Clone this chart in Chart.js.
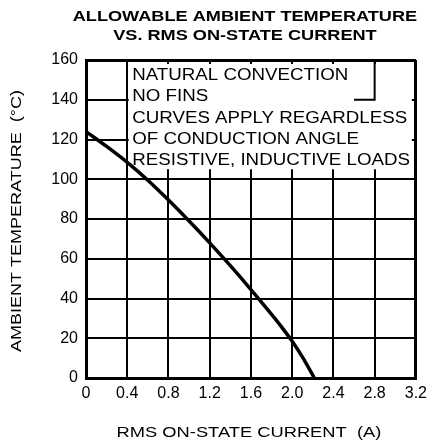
<!DOCTYPE html>
<html>
<head>
<meta charset="utf-8">
<script src="https://cdn.jsdelivr.net/npm/chart.js@4"></script>
<style>
  html, body { margin: 0; padding: 0; background: #fff; }
  canvas { display: block; }
</style>
</head>
<body>
<canvas id="chart" width="433" height="447"></canvas>
<script>
// Data
const currentA = [0, 0.2, 0.4, 0.6, 0.8, 1.0, 1.2, 1.4, 1.6, 1.8, 1.9, 2.0, 2.1, 2.215];
const ambientC = [124, 116.5, 108.5, 99.5, 89.5, 79, 68, 56.5, 44.5, 32, 25.5, 18.5, 10.5, 0];

const xTickLabels = ['0', '0.4', '0.8', '1.2', '1.6', '2.0', '2.4', '2.8', '3.2'];
const yTickLabels = ['0', '20', '40', '60', '80', '100', '120', '140', '160'];

const titleLines = ['ALLOWABLE AMBIENT TEMPERATURE', 'VS. RMS ON-STATE CURRENT'];
const xTitle = 'RMS ON-STATE CURRENT  (A)';
const yTitle = 'AMBIENT TEMPERATURE  (\u00B0C)';
const noteLines = [
    'NATURAL CONVECTION',
    'NO FINS',
    'CURVES APPLY REGARDLESS',
    'OF CONDUCTION ANGLE',
    'RESISTIVE, INDUCTIVE LOADS'
];

const FONT = '"Liberation Sans", Arial, Helvetica, sans-serif';

// text in the reference is a wide Helvetica, so stretch it a bit
function stretchedText(ctx, text, x, y, sx, font, align) {
    ctx.save();
    ctx.font = font;
    ctx.fillStyle = '#000';
    ctx.textAlign = align || 'left';
    ctx.textBaseline = 'alphabetic';
    ctx.translate(x, y);
    ctx.scale(sx, 1);
    ctx.fillText(text, 0, 0);
    ctx.restore();
}

// white note box over the grid, with the few grid pieces that show through
const noteBox = {
    id: 'noteBox',
    beforeDatasetsDraw(chart) {
        const ctx = chart.ctx;
        const xs = chart.scales.x, ys = chart.scales.y;
        const left = xs.getPixelForValue(0.4) + 1.5;
        const right = xs.getPixelForValue(3.2) - 4;
        const top = ys.getPixelForValue(160) + 4;
        const bottom = ys.getPixelForValue(100) - 10;
        ctx.save();
        ctx.fillStyle = '#fff';
        ctx.fillRect(left, top, right - left, bottom - top);

        ctx.strokeStyle = '#000';
        ctx.lineWidth = 2;
        ctx.beginPath();
        ctx.moveTo(xs.getPixelForValue(2.8), ys.getPixelForValue(160));
        ctx.lineTo(xs.getPixelForValue(2.8), ys.getPixelForValue(140));
        ctx.moveTo(xs.getPixelForValue(2.6), ys.getPixelForValue(140));
        ctx.lineTo(xs.getPixelForValue(2.8) + 1, ys.getPixelForValue(140));
        ctx.stroke();
        ctx.restore();

        const tx = xs.getPixelForValue(0.4) + 5;
        let ty = top + 16;
        noteLines.forEach(line => {
            stretchedText(ctx, line, tx, ty, 1.17, '16px ' + FONT);
            ty += 21.25;
        });
    }
};

const outerText = {
    id: 'outerText',
    afterDraw(chart) {
        const ctx = chart.ctx;
        const area = chart.chartArea;
        const midX = (area.left + area.right) / 2;
        stretchedText(ctx, titleLines[0], midX - 6, 21, 1.21, 'bold 15px ' + FONT, 'center');
        stretchedText(ctx, titleLines[1], midX - 6, 40, 1.21, 'bold 15px ' + FONT, 'center');

        stretchedText(ctx, xTitle, midX - 2, 437, 1.22, '15px ' + FONT, 'center');

        ctx.save();
        ctx.translate(21, (area.top + area.bottom) / 2 + 2);
        ctx.rotate(-Math.PI / 2);
        stretchedText(ctx, yTitle, 0, 0, 1.2, '15px ' + FONT, 'center');
        ctx.restore();
    }
};

const ctx = document.getElementById('chart').getContext('2d');
new Chart(ctx, {
    type: 'line',
    data: {
        datasets: [{
            data: currentA.map((a, i) => ({ x: a, y: ambientC[i] })),
            borderColor: '#000',
            borderWidth: 3.5,
            pointRadius: 0,
            fill: false,
            cubicInterpolationMode: 'monotone'
        }]
    },
    options: {
        responsive: false,
        animation: false,
        devicePixelRatio: 1,
        layout: {
            padding: { top: 60, right: 13, bottom: 0, left: 0 }
        },
        plugins: {
            legend: { display: false },
            tooltip: { enabled: false },
            title: { display: false }
        },
        scales: {
            x: {
                type: 'linear',
                min: 0,
                max: 3.2,
                afterFit: s => { s.height = 69; },
                ticks: {
                    stepSize: 0.4,
                    autoSkip: false,
                    maxRotation: 0,
                    padding: 6,
                    color: '#000',
                    font: { family: FONT, size: 16 },
                    callback: (v, i) => xTickLabels[i]
                },
                grid: {
                    color: '#000',
                    drawTicks: false,
                    lineWidth: c => (c.index === xTickLabels.length - 1 ? 3 : 2)
                },
                border: { display: true, color: '#000', width: 3 }
            },
            y: {
                min: 0,
                max: 160,
                afterFit: s => { s.width = 86; },
                ticks: {
                    stepSize: 20,
                    padding: 8,
                    color: '#000',
                    font: { family: FONT, size: 16 },
                    callback: (v, i) => yTickLabels[i]
                },
                grid: {
                    color: '#000',
                    drawTicks: false,
                    lineWidth: c => (c.index === yTickLabels.length - 1 ? 3 : 2)
                },
                border: { display: true, color: '#000', width: 3 }
            }
        }
    },
    plugins: [noteBox, outerText]
});
</script>
</body>
</html>
